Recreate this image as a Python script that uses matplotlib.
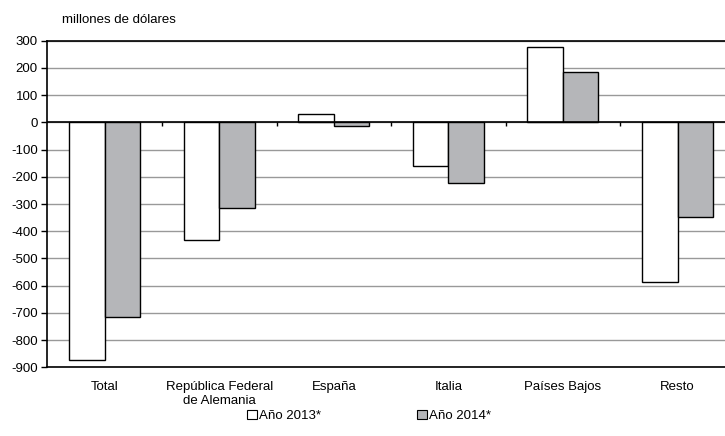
import matplotlib.pyplot as plt
import numpy as np
from matplotlib.patches import Patch

plt.rcParams['font.family'] = ['Liberation Sans', 'DejaVu Sans']

# datos
categorias = ['Total', 'República Federal\nde Alemania', 'España', 'Italia', 'Países Bajos', 'Resto']
anio_2013 = [-874, -431, 30, -160, 277, -586]
anio_2014 = [-714, -314, -14, -224, 185, -346]
yticks = np.arange(-900, 301, 100)

fig = plt.figure(figsize=(7.25, 4.36), dpi=100)
ax = fig.add_axes([0.0655, 0.1576, 0.948, 0.749])

x = np.arange(len(categorias))
w = 0.31
ax.bar(x - w / 2, anio_2013, w, color='white', edgecolor='black', linewidth=1, zorder=3)
ax.bar(x + w / 2, anio_2014, w, color='#b5b6b9', edgecolor='black', linewidth=1, zorder=3)

ax.set_xlim(-0.5, 5.5)
ax.set_ylim(-900, 300)
ax.set_yticks(yticks)
ax.set_yticklabels([str(v) for v in yticks], fontsize=9.5)
ax.yaxis.grid(True, color='#999999', linewidth=1)
ax.set_axisbelow(True)
ax.axhline(0, color='black', linewidth=1.2, zorder=4)
# marcas entre categorias sobre el eje cero
ax.vlines(np.arange(0.5, 5), -15, 0, color='black', linewidth=1, zorder=4)

ax.set_xticks(x)
ax.set_xticklabels(categorias, fontsize=9.5, linespacing=1.25)
ax.tick_params(axis='x', length=0, pad=10)
ax.tick_params(axis='y', length=4, width=1, pad=3)

for s in ['left', 'bottom', 'top']:
    ax.spines[s].set_color('black')
    ax.spines[s].set_linewidth(1.2)
ax.spines['right'].set_visible(False)

fig.text(0.0855, 1 - 20 / 436, 'millones de dólares', fontsize=9.5, va='center', ha='left')

handles = [Patch(facecolor='white', edgecolor='black', linewidth=0.8),
           Patch(facecolor='#b5b6b9', edgecolor='black', linewidth=0.8)]
fig.legend(handles, ['Año 2013*', 'Año 2014*'], loc='center', bbox_to_anchor=(0.509, 0.046),
           ncol=2, frameon=False, fontsize=9.5, handlelength=0.75, handleheight=0.75,
           handletextpad=0.15, columnspacing=7.3)

fig.savefig('out.png', dpi=100)
